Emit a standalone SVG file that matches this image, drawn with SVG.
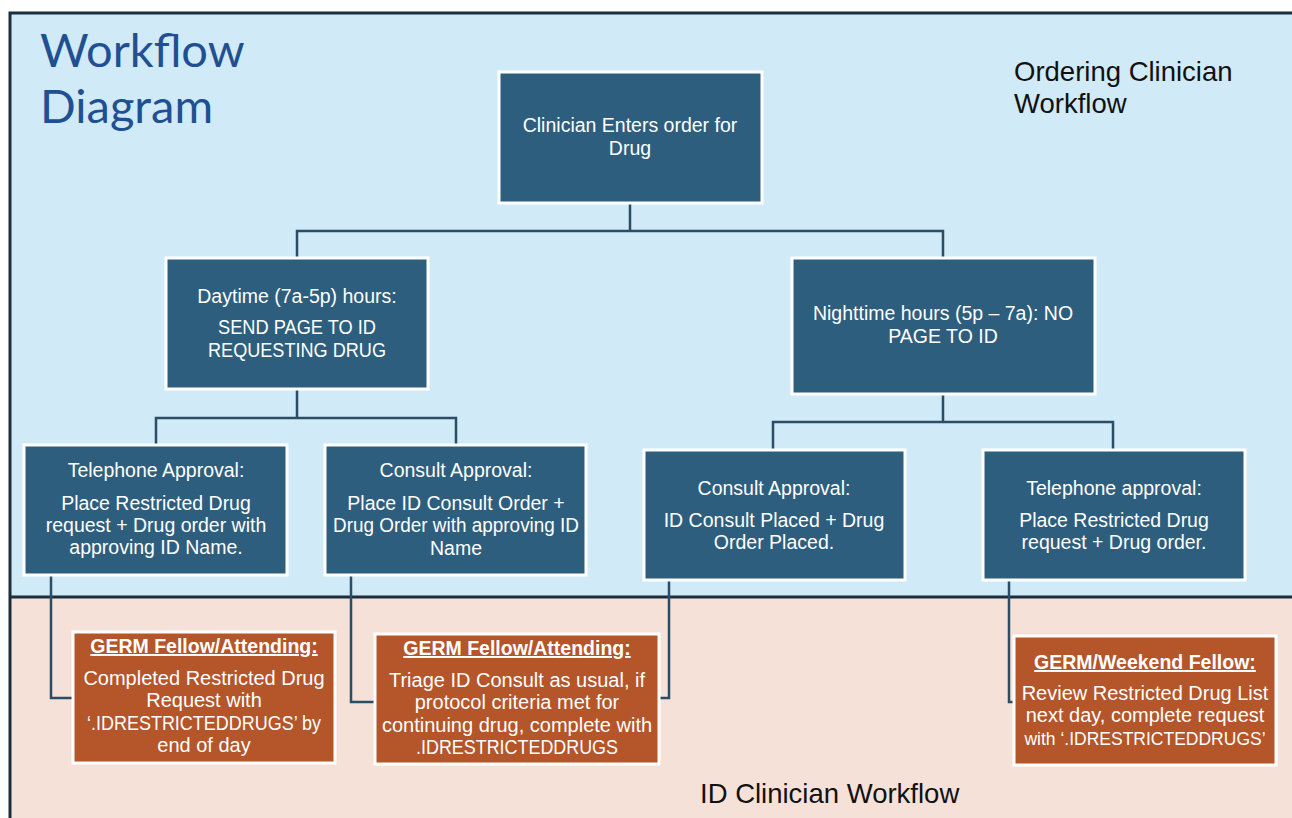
<svg xmlns="http://www.w3.org/2000/svg" width="1292" height="818" viewBox="0 0 1292 818">
<style>
.node rect{fill:#2E5E7E;stroke:#FFFFFF;stroke-width:3}
.onode rect{fill:#B5552A;stroke:#FFFFFF;stroke-width:3}
.t{font-family:"Liberation Sans","Noto Sans",sans-serif;font-size:19.5px;fill:#FFFFFF;text-anchor:middle}
.o{font-size:20px}
.s{font-size:17.5px}
.h{font-family:"Liberation Sans","Noto Sans",sans-serif;font-size:19.5px;font-weight:bold;fill:#FFFFFF;text-anchor:middle;text-decoration:underline}
.lbl{font-family:"Liberation Sans","Noto Sans",sans-serif;font-size:27.5px;fill:#111111}
.title{font-family:Lato,"Open Sans",sans-serif;font-size:47px;fill:#1F5093}
#connectors path{fill:none;stroke:#2B4D66;stroke-width:2.5}
</style>
<rect x="0" y="0" width="1292" height="818" fill="#FFFFFF"/>
<g id="background">
<rect x="10" y="13" width="1290" height="584" fill="#D0EAF7"/>
<rect x="10" y="597" width="1290" height="225" fill="#F6E1D8"/>
<path d="M10 818 V13 H1292" fill="none" stroke="#1A2E3B" stroke-width="3"/>
<line x1="10" y1="597" x2="1292" y2="597" stroke="#1A2E3B" stroke-width="3"/>
</g>
<text class="title" x="40" y="67">Workflow</text>
<text class="title" x="40" y="123">Diagram</text>
<text class="lbl" x="1014" y="81">Ordering Clinician</text>
<text class="lbl" x="1014" y="113">Workflow</text>
<text class="lbl" x="700" y="803">ID Clinician Workflow</text>
<g id="connectors">
<path d="M630 203 V231 M297 258 V231 H943 V258"/>
<path d="M297 389 V418 M156 445 V418 H456 V445"/>
<path d="M943 394 V422 M773 450 V422 H1113 V450"/>
<path d="M51 575 V698 H73"/>
<path d="M351 575 V702 H375"/>
<path d="M669 580 V698 H659"/>
<path d="M1009 580 V702 H1014"/>
</g>
<g id="n-start" class="node"><rect x="499" y="72" width="263" height="131"/>
<text class="t" x="630" y="132">Clinician Enters order for</text><text class="t" x="630" y="155">Drug</text></g>
<g id="n-day" class="node"><rect x="166" y="258" width="262" height="131"/>
<text class="t" x="297" y="303">Daytime (7a-5p) hours:</text><text class="t" x="297" y="334" textLength="158" lengthAdjust="spacingAndGlyphs">SEND PAGE TO ID</text><text class="t" x="297" y="357" textLength="178" lengthAdjust="spacingAndGlyphs">REQUESTING DRUG</text></g>
<g id="n-night" class="node"><rect x="792" y="258" width="303" height="136"/>
<text class="t" x="943" y="320">Nighttime hours (5p – 7a): NO</text><text class="t" x="943" y="343">PAGE TO ID</text></g>
<g id="n-tel-day" class="node"><rect x="24" y="445" width="263" height="130"/>
<text class="t" x="156" y="477">Telephone Approval:</text><text class="t" x="156" y="510">Place Restricted Drug</text><text class="t" x="156" y="532">request + Drug order with</text><text class="t" x="156" y="554">approving ID Name.</text></g>
<g id="n-con-day" class="node"><rect x="325" y="445" width="261" height="130"/>
<text class="t" x="456" y="477">Consult Approval:</text><text class="t" x="456" y="510">Place ID Consult Order +</text><text class="t" x="456" y="532" textLength="246" lengthAdjust="spacingAndGlyphs">Drug Order with approving ID</text><text class="t" x="456" y="555">Name</text></g>
<g id="n-con-night" class="node"><rect x="644" y="450" width="261" height="130"/>
<text class="t" x="774" y="495">Consult Approval:</text><text class="t" x="774" y="527">ID Consult Placed + Drug</text><text class="t" x="774" y="549">Order Placed.</text></g>
<g id="n-tel-night" class="node"><rect x="983" y="450" width="262" height="130"/>
<text class="t" x="1114" y="495">Telephone approval:</text><text class="t" x="1114" y="527">Place Restricted Drug</text><text class="t" x="1114" y="549">request + Drug order.</text></g>
<g id="o-tel-day" class="onode"><rect x="73" y="632" width="262" height="131"/>
<text class="h" x="204" y="653">GERM Fellow/Attending:</text><text class="t o" x="204" y="685">Completed Restricted Drug</text><text class="t o" x="204" y="707">Request with</text><text class="t o" x="204" y="730" textLength="234" lengthAdjust="spacingAndGlyphs">‘.IDRESTRICTEDDRUGS’ by</text><text class="t o" x="204" y="752">end of day</text></g>
<g id="o-con-day" class="onode"><rect x="375" y="634" width="284" height="130"/>
<text class="h" x="517" y="655">GERM Fellow/Attending:</text><text class="t o" x="517" y="687">Triage ID Consult as usual, if</text><text class="t o" x="517" y="709">protocol criteria met for</text><text class="t o" x="517" y="732">continuing drug, complete with</text><text class="t o" x="517" y="754" textLength="202" lengthAdjust="spacingAndGlyphs">.IDRESTRICTEDDRUGS</text></g>
<g id="o-night" class="onode"><rect x="1014" y="636" width="262" height="129"/>
<text class="h" x="1145" y="669">GERM/Weekend Fellow:</text><text class="t o" x="1145" y="700">Review Restricted Drug List</text><text class="t o" x="1145" y="722">next day, complete request</text><text class="t s" x="1145" y="745">with ‘.IDRESTRICTEDDRUGS’</text></g>
</svg>
